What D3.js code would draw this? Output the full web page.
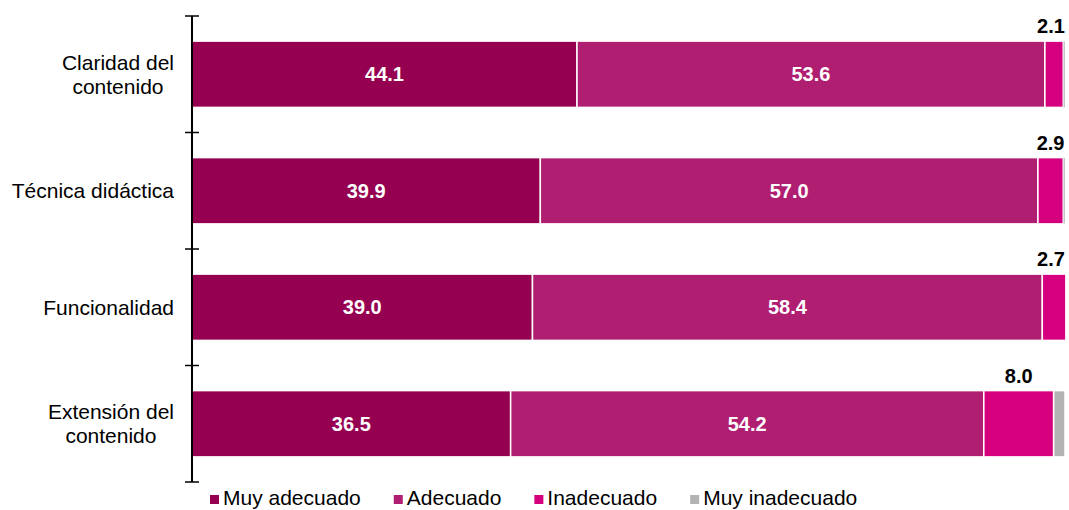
<!DOCTYPE html>
<html>
<head>
<meta charset="utf-8">
<script src="https://cdn.jsdelivr.net/npm/d3@7"></script>
<style>
  body { margin: 0; background: #fff; }
  svg { font-family: Arial, "Liberation Sans", sans-serif; }
</style>
</head>
<body>
<script>
// categories and series
var categories = ["Claridad del contenido", "Técnica didáctica", "Funcionalidad", "Extensión del contenido"];
var categoryLines = [["Claridad del", "contenido"], ["Técnica didáctica"], ["Funcionalidad"], ["Extensión del", "contenido"]];
var seriesNames = ["Muy adecuado", "Adecuado", "Inadecuado", "Muy inadecuado"];
var muyAdecuado = [44.1, 39.9, 39.0, 36.5];
var adecuado = [53.6, 57.0, 58.4, 54.2];
var inadecuado = [2.1, 2.9, 2.7, 8.0];
var muyInadecuado = [0.2, 0.2, 0.0, 1.3];
var colors = ["#950050", "#B01E72", "#D6007F", "#B3B3B3"];

var width = 1069, height = 510;

var svg = d3.select("body").append("svg")
    .attr("width", width)
    .attr("height", height);

// build rows for the stack
var rows = categories.map(function(c, i) {
  return { cat: c, "Muy adecuado": muyAdecuado[i], "Adecuado": adecuado[i],
           "Inadecuado": inadecuado[i], "Muy inadecuado": muyInadecuado[i] };
});
var stacked = d3.stack().keys(seriesNames)(rows);

// scales
var x = d3.scaleLinear().domain([0, 100]).range([192, 1065]);
var pad = 0.431;
var y = d3.scaleBand().domain(categories).range([16, 482])
    .paddingInner(pad).paddingOuter(pad / 2);

// bars
var layers = svg.selectAll("g.layer")
    .data(stacked)
  .enter().append("g")
    .attr("class", "layer")
    .attr("fill", function(d, i) { return colors[i]; });

layers.selectAll("rect")
    .data(function(d) { return d; })
  .enter().append("rect")
    .attr("x", function(d) { return x(d[0]); })
    .attr("y", function(d) { return y(d.data.cat); })
    .attr("width", function(d) { return Math.max(0, x(d[1]) - x(d[0])); })
    .attr("height", y.bandwidth())
    .attr("stroke", "#fff")
    .attr("stroke-width", function(d) { return (d[1] - d[0]) > 0.5 ? 1.5 : 0.5; });

// white labels inside the first two series
[0, 1].forEach(function(s) {
  svg.append("g").selectAll("text")
      .data(stacked[s])
    .enter().append("text")
      .attr("x", function(d) { return (x(d[0]) + x(d[1])) / 2; })
      .attr("y", function(d) { return y(d.data.cat) + y.bandwidth() / 2; })
      .attr("dy", "0.36em")
      .attr("text-anchor", "middle")
      .attr("fill", "#fff")
      .attr("font-weight", "bold")
      .attr("font-size", "20px")
      .text(function(d) { return (d[1] - d[0]).toFixed(1); });
});

// black labels above the Inadecuado segment
svg.append("g").selectAll("text")
    .data(stacked[2])
  .enter().append("text")
    .attr("x", function(d) { return Math.min((x(d[0]) + x(d[1])) / 2, 1051); })
    .attr("y", function(d) { return y(d.data.cat) - 8; })
    .attr("text-anchor", "middle")
    .attr("fill", "#000")
    .attr("font-weight", "bold")
    .attr("font-size", "20px")
    .text(function(d) { return (d[1] - d[0]).toFixed(1); });

// vertical axis with crossing ticks at band boundaries
var axis = svg.append("g").attr("stroke", "#000");
var y0 = y.range()[0], y1 = y.range()[1];
axis.append("line")
    .attr("x1", x(0)).attr("x2", x(0))
    .attr("y1", y0).attr("y2", y1)
    .attr("stroke-width", 2);
d3.range(categories.length + 1).forEach(function(i) {
  var ty = y0 + i * y.step();
  axis.append("line")
      .attr("x1", x(0) - 7).attr("x2", x(0) + 7)
      .attr("y1", ty).attr("y2", ty)
      .attr("stroke-width", 1.5);
});

// category labels (multi-line blocks centred, right aligned as a block)
var labelRight = 174;
categoryLines.forEach(function(lines, i) {
  var g = svg.append("g");
  var cy = y(categories[i]) + y.bandwidth() / 2;
  var texts = lines.map(function(l, j) {
    return g.append("text")
        .attr("font-size", "21px")
        .attr("fill", "#000")
        .attr("text-anchor", "middle")
        .attr("y", cy + (j - (lines.length - 1) / 2) * 24)
        .attr("dy", "0.36em")
        .text(l);
  });
  var maxW = d3.max(texts, function(t) { return t.node().getComputedTextLength(); });
  texts.forEach(function(t) { t.attr("x", labelRight - maxW / 2); });
});

// legend
var legend = svg.append("g");
var lx = 210;
seriesNames.forEach(function(name, i) {
  legend.append("rect")
      .attr("x", lx).attr("y", 495)
      .attr("width", 9).attr("height", 9)
      .attr("fill", colors[i]);
  var t = legend.append("text")
      .attr("x", lx + 13).attr("y", 505)
      .attr("font-size", "21px")
      .attr("fill", "#000")
      .text(name);
  lx += 13 + t.node().getComputedTextLength() + 33;
});
</script>
</body>
</html>
